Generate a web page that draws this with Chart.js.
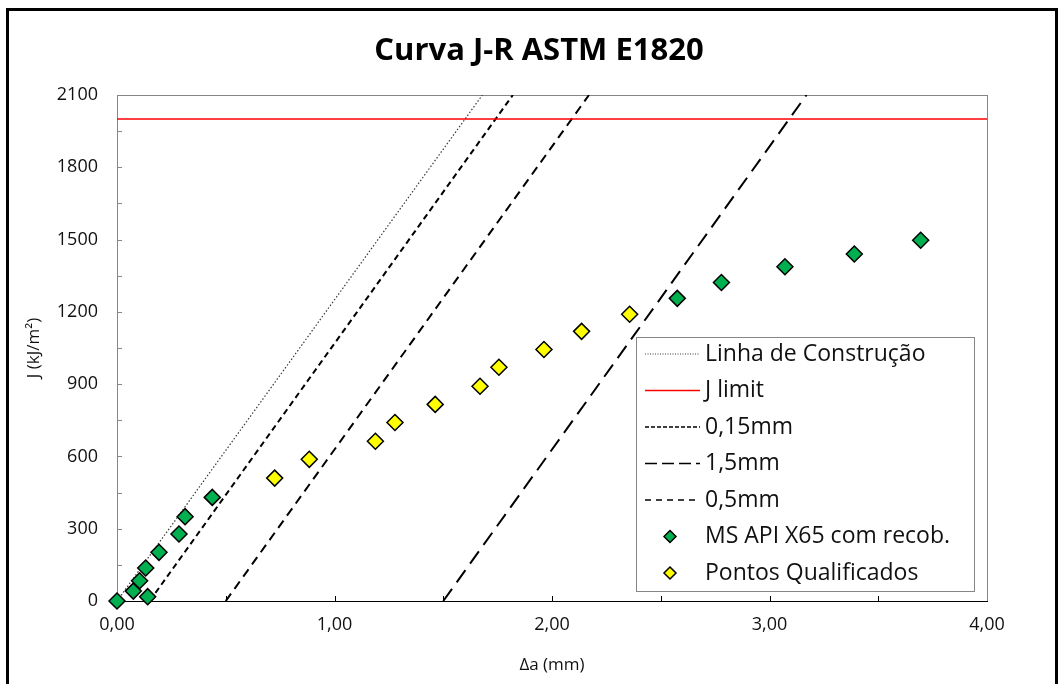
<!DOCTYPE html>
<html>
<head>
<meta charset="utf-8">
<script src="https://cdn.jsdelivr.net/npm/chart.js@4.4.1/dist/chart.umd.min.js"></script>
<style>
html, body { margin: 0; padding: 0; background: #fff; overflow: hidden; }
#frame { position: absolute; left: 6px; top: 8px; width: 1052px; height: 720px; border: 3px solid #000; box-sizing: border-box; }
#c { position: absolute; left: 0; top: 0; }
</style>
</head>
<body>
<div id="frame"></div>
<canvas id="c" width="1063" height="684"></canvas>
<script>
// values
const chartTitle = 'Curva J-R ASTM E1820';
const xTitle = 'Δa (mm)';
const yTitle = 'J (kJ/m²)';

const greenX = [0, 0.075, 0.104, 0.141, 0.132, 0.193, 0.285, 0.313, 0.438, 2.576, 2.779, 3.071, 3.39, 3.695];
const greenY = [0, 41, 84, 18, 137, 202, 278, 350, 430, 1256, 1322, 1387, 1440, 1497];

const yellowX = [0.725, 0.884, 1.188, 1.278, 1.463, 1.669, 1.756, 1.963, 2.136, 2.357];
const yellowY = [510, 588, 663, 741, 816, 891, 970, 1044, 1119, 1190];

const constrX = [0, 1.68];
const constrY = [0, 2100];
const jLimitX = [0, 4];
const jLimitY = [2000, 2000];
const off015X = [0.15, 1.82];
const off15X = [1.5, 3.17];
const off05X = [0.5, 2.17];
const offY = [0, 2100];

const FONT = '"Open Sans", "Noto Sans", sans-serif';
const TXT = '#111';

function pts(xs, ys) {
  return xs.map((x, i) => ({ x: x, y: ys[i] }));
}

const excelTitle = {
  id: 'excelTitle',
  afterDraw(chart) {
    const ctx = chart.ctx;
    ctx.save();
    ctx.font = 'bold 31px ' + FONT;
    ctx.fillStyle = '#000';
    ctx.textAlign = 'center';
    ctx.textBaseline = 'middle';
    ctx.fillText(chartTitle, 539, 51);
    ctx.restore();
  }
};

// plot-area box and the small inward tick marks
const plotFrame = {
  id: 'plotFrame',
  beforeDatasetsDraw(chart) {
    const ctx = chart.ctx;
    const a = chart.chartArea;
    const x = chart.scales.x, y = chart.scales.y;
    ctx.save();
    ctx.lineWidth = 1;
    ctx.strokeStyle = '#868686';
    ctx.strokeRect(Math.round(a.left) + 0.5, Math.round(a.top) + 0.5, Math.round(a.right - a.left), Math.round(a.bottom - a.top));
    ctx.beginPath();
    for (let v = 150; v < 2100; v += 150) {
      const py = Math.round(y.getPixelForValue(v)) + 0.5;
      ctx.moveTo(a.left, py);
      ctx.lineTo(a.left + 5, py);
    }
    ctx.stroke();
    ctx.strokeStyle = '#000';
    ctx.beginPath();
    for (let v = 0.5; v < 4; v += 0.5) {
      const px = Math.round(x.getPixelForValue(v)) + 0.5;
      ctx.moveTo(px, a.bottom);
      ctx.lineTo(px, a.bottom - 5);
    }
    ctx.moveTo(a.left, Math.round(a.bottom) + 0.5);
    ctx.lineTo(a.right + 1, Math.round(a.bottom) + 0.5);
    ctx.stroke();
    ctx.restore();
  }
};

const boxLegend = {
  id: 'boxLegend',
  afterDraw(chart) {
    const ctx = chart.ctx;
    const left = 636, top = 337, w = 338, h = 254;
    ctx.save();
    ctx.fillStyle = '#fff';
    ctx.fillRect(left, top, w, h);
    ctx.strokeStyle = '#868686';
    ctx.lineWidth = 1;
    ctx.strokeRect(left + 0.5, top + 0.5, w, h);
    chart.data.datasets.forEach((ds, i) => {
      const cy = top + 17 + i * 36.5;
      if (ds.showLine) {
        ctx.save();
        ctx.strokeStyle = ds.borderColor;
        ctx.lineWidth = Math.min(ds.borderWidth, 1.6);
        ctx.setLineDash(ds.legendDash || []);
        ctx.beginPath();
        ctx.moveTo(left + 9, cy);
        ctx.lineTo(left + 64, cy);
        ctx.stroke();
        ctx.restore();
      } else {
        const cx = left + 34, r = 6;
        ctx.beginPath();
        ctx.moveTo(cx, cy - r);
        ctx.lineTo(cx + r, cy);
        ctx.lineTo(cx, cy + r);
        ctx.lineTo(cx - r, cy);
        ctx.closePath();
        ctx.fillStyle = ds.backgroundColor;
        ctx.fill();
        ctx.lineWidth = 1.5;
        ctx.strokeStyle = '#000';
        ctx.stroke();
      }
      ctx.fillStyle = TXT;
      ctx.font = '23px ' + FONT;
      ctx.textBaseline = 'middle';
      ctx.textAlign = 'left';
      ctx.fillText(ds.label, left + 69, cy);
    });
    ctx.restore();
  }
};

new Chart(document.getElementById('c'), {
  type: 'scatter',
  data: {
    datasets: [
      { label: 'Linha de Construção', data: pts(constrX, constrY), showLine: true, borderColor: '#3a3a3a', borderWidth: 1.2, borderDash: [1.5, 2], legendDash: [1, 1.5], pointRadius: 0, order: 1 },
      { label: 'J limit', data: pts(jLimitX, jLimitY), showLine: true, borderColor: '#ff0000', borderWidth: 1.5, pointRadius: 0, order: 1 },
      { label: '0,15mm', data: pts(off015X, offY), showLine: true, borderColor: '#000', borderWidth: 2, borderDash: [6, 4], legendDash: [4, 2], pointRadius: 0, order: 1 },
      { label: '1,5mm', data: pts(off15X, offY), showLine: true, borderColor: '#000', borderWidth: 2, borderDash: [15, 8], legendDash: [12, 5], pointRadius: 0, order: 1 },
      { label: '0,5mm', data: pts(off05X, offY), showLine: true, borderColor: '#000', borderWidth: 2, borderDash: [9, 6], legendDash: [6, 5], pointRadius: 0, order: 1 },
      { label: 'MS API X65 com recob.', data: pts(greenX, greenY), backgroundColor: '#00b050', borderColor: '#000', borderWidth: 1.5, pointStyle: 'rectRot', pointRadius: 8, order: 0, clip: false },
      { label: 'Pontos Qualificados', data: pts(yellowX, yellowY), backgroundColor: '#ffff00', borderColor: '#000', borderWidth: 1.5, pointStyle: 'rectRot', pointRadius: 8, order: 0, clip: false }
    ]
  },
  options: {
    responsive: false,
    animation: false,
    layout: { padding: { left: 20, right: 76, top: 95, bottom: 3 } },
    plugins: { legend: { display: false }, tooltip: { enabled: false } },
    scales: {
      x: {
        type: 'linear', min: 0, max: 4,
        ticks: { stepSize: 1, padding: 13, color: TXT, font: { family: FONT, size: 18 }, callback: v => v.toFixed(2).replace('.', ',') },
        grid: { display: false, drawTicks: false },
        border: { display: false },
        title: { display: true, text: xTitle, color: TXT, font: { family: FONT, size: 17 }, padding: { top: 2, bottom: 6 } },
        afterFit(s) { s.height = 80; }
      },
      y: {
        min: 0, max: 2100,
        ticks: { stepSize: 300, padding: 19, color: TXT, font: { family: FONT, size: 18 }, callback: v => String(v) },
        grid: { display: false, drawTicks: false },
        border: { display: false },
        title: { display: true, text: yTitle, color: TXT, font: { family: FONT, size: 17 }, padding: { top: 4, bottom: 4 } },
        afterFit(s) { s.width = 97; }
      }
    }
  },
  plugins: [plotFrame, excelTitle, boxLegend]
});
</script>
</body>
</html>
